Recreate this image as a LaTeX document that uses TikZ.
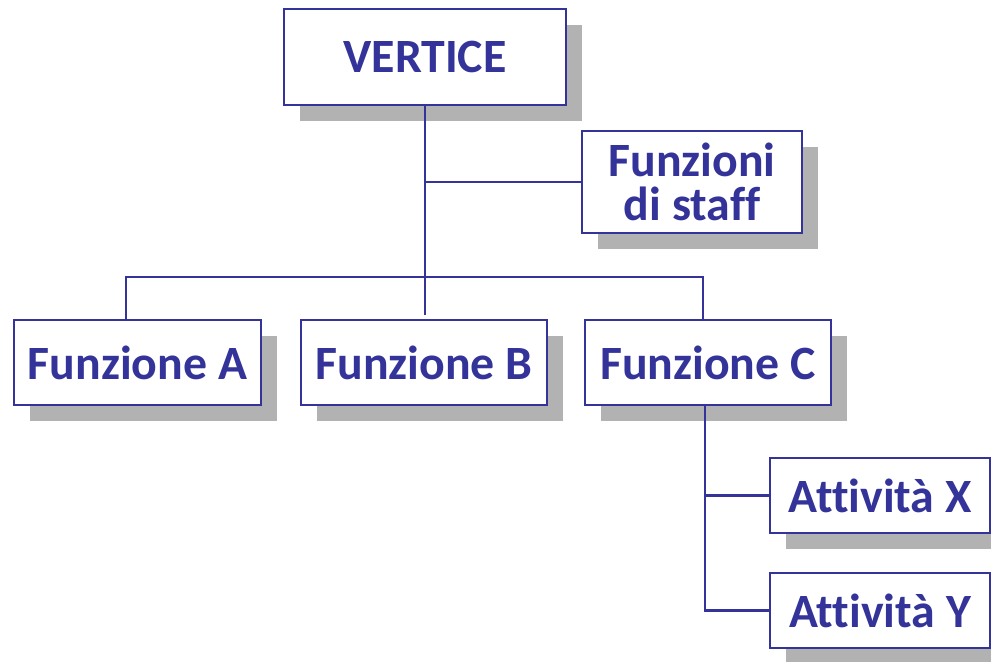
\documentclass[tikz,border=0pt]{standalone}
\usepackage{fontspec}
\setmainfont{Carlito}[Ligatures={NoCommon},RawFeature={-liga;-calt;-dlig}]
\usetikzlibrary{shadows}
\definecolor{blu}{HTML}{333399}
\tikzset{
  box/.style={draw=blu,line width=1.5pt,fill=white,text=blu,font=\bfseries\fontsize{34}{31}\selectfont,
    align=center,inner sep=0pt,
    general shadow={fill=black!30,shadow xshift=0.4cm,shadow yshift=-0.4cm}},
  link/.style={draw=blu,line width=1.5pt}
}
\begin{document}
\begin{tikzpicture}[x=0.025cm,y=-0.025cm]
\useasboundingbox (0,0) rectangle (991,662);
\node[box,minimum width=282*0.025cm,minimum height=96*0.025cm] (vertice) at (425,57) {VERTICE};
\node[box,minimum width=220*0.025cm,minimum height=102*0.025cm] (staff) at (692,182) {Funzioni\\di staff};
\node[box,minimum width=247*0.025cm,minimum height=85*0.025cm] (fa) at (137.5,362.5) {Funzione A};
\node[box,minimum width=246*0.025cm,minimum height=85*0.025cm] (fb) at (424,362.5) {Funzione B};
\node[box,minimum width=246*0.025cm,minimum height=85*0.025cm] (fc) at (708,362.5) {Funzione C};
\node[box,minimum width=220*0.025cm,minimum height=75*0.025cm] (ax) at (880,495.5) {Attività X};
\node[box,minimum width=220*0.025cm,minimum height=75*0.025cm] (ay) at (880,610.5) {Attività Y};
\coordinate (busa) at (126,277);
\coordinate (busc) at (703,277);
\coordinate (ramo) at (705,405);
\draw[link] (vertice.south) -- (425,315);
\draw[link] (staff.west) -- (425,182);
\draw[link] (busa |- fa.north) -- (busa) -- (busc) -- (busc |- fc.north);
\draw[link] (ramo) |- (ay.west);
\draw[link] (ramo |- ax.west) -- (ax.west);
\end{tikzpicture}
\end{document}
